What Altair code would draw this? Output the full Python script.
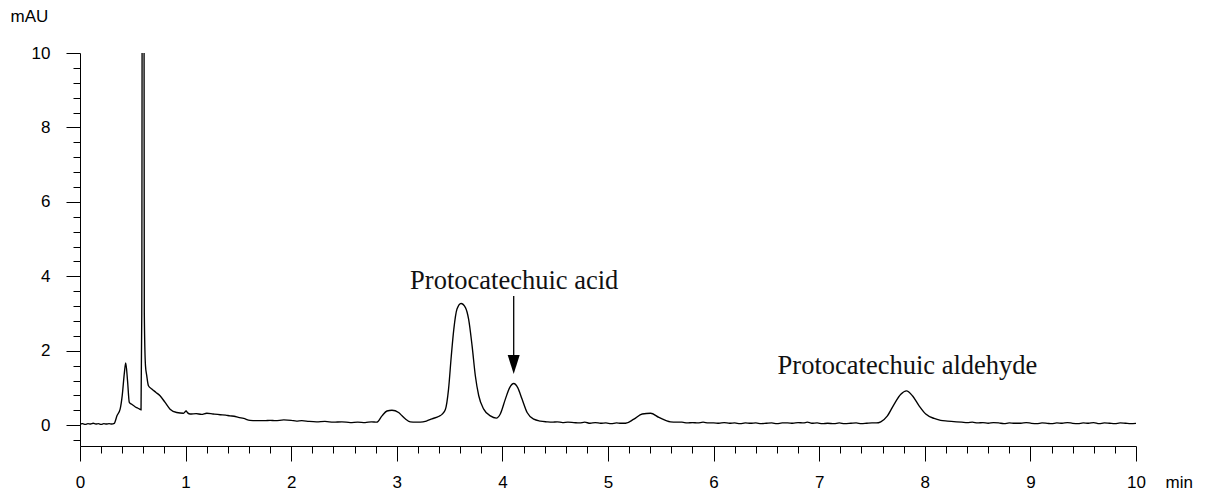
import altair as alt
import pandas as pd

# ---- chromatogram trace (time in min, absorbance in mAU) ----
# baseline before injection front
seg0_t = [0.00, 0.025, 0.05, 0.075, 0.10, 0.125, 0.15, 0.175, 0.20, 0.225, 0.25, 0.275, 0.30]
seg0_v = [0.03, 0.04, 0.02, 0.04, 0.03, 0.05, 0.03, 0.04, 0.02, 0.04, 0.03, 0.04, 0.03]

# solvent front, spike and tail
seg1_t = [0.325, 0.35, 0.38, 0.40, 0.42, 0.433, 0.45, 0.467, 0.49, 0.51, 0.537, 0.56, 0.578,
          0.585, 0.597, 0.609, 0.62, 0.632, 0.648, 0.68, 0.72, 0.758, 0.806, 0.853, 0.916,
          0.98, 1.005, 1.02, 1.043, 1.10, 1.15, 1.20, 1.26, 1.327, 1.38, 1.42, 1.46, 1.50,
          1.55, 1.61]
seg1_v = [0.05, 0.25, 0.43, 0.80, 1.40, 1.67, 1.20, 0.61, 0.56, 0.52, 0.47, 0.44, 0.41,
          3.00, 40.0, 3.00, 1.60, 1.33, 1.06, 0.97, 0.88, 0.79, 0.61, 0.43, 0.34,
          0.32, 0.38, 0.33, 0.30, 0.31, 0.29, 0.32, 0.30, 0.28, 0.27, 0.25, 0.24, 0.21,
          0.18, 0.13]

# baseline and the small peak near 2.95 min
seg2_t = [1.675, 1.75, 1.80, 1.85, 1.93, 2.00, 2.05, 2.10, 2.17, 2.24, 2.32, 2.40, 2.48,
          2.56, 2.63, 2.70, 2.76, 2.81, 2.86, 2.907, 2.954, 3.017, 3.05, 3.08, 3.128, 3.18,
          3.223, 3.28, 3.333, 3.40, 3.428]
seg2_v = [0.12, 0.12, 0.13, 0.12, 0.14, 0.13, 0.11, 0.12, 0.10, 0.09, 0.10, 0.08, 0.09,
          0.07, 0.08, 0.07, 0.09, 0.08, 0.25, 0.38, 0.40, 0.34, 0.25, 0.17, 0.09, 0.08,
          0.08, 0.11, 0.17, 0.24, 0.29]

# main peak (3.6 min) and protocatechuic acid (4.1 min)
seg3_t = [3.46, 3.49, 3.516, 3.54, 3.57, 3.608, 3.65, 3.68, 3.713, 3.744, 3.776, 3.823,
          3.886, 3.943, 3.98, 4.028, 4.069, 4.107, 4.145, 4.186, 4.234, 4.297, 4.36]
seg3_v = [0.42, 0.97, 1.86, 2.58, 3.12, 3.27, 3.16, 2.85, 2.13, 1.32, 0.79, 0.43,
          0.25, 0.19, 0.30, 0.70, 1.01, 1.12, 1.01, 0.70, 0.34, 0.16, 0.11]

# baseline and small peak at 5.4 min
seg4_t = [4.42, 4.47, 4.52, 4.57, 4.62, 4.676, 4.73, 4.78, 4.83, 4.88, 4.93, 4.98, 5.03,
          5.08, 5.12, 5.166, 5.245, 5.324, 5.403, 5.482, 5.592, 5.65]
seg4_v = [0.09, 0.08, 0.09, 0.07, 0.08, 0.07, 0.06, 0.08, 0.05, 0.07, 0.05, 0.06, 0.04,
          0.06, 0.05, 0.05, 0.16, 0.30, 0.32, 0.21, 0.09, 0.08]

# long baseline up to the aldehyde peak
seg5_t = [5.70, 5.75, 5.80, 5.85, 5.90, 5.95, 6.00, 6.05, 6.10, 6.15, 6.20, 6.25, 6.30,
          6.35, 6.40, 6.45, 6.50, 6.55, 6.60, 6.65, 6.70, 6.75, 6.80, 6.85, 6.888, 6.93,
          6.98, 7.03, 7.08, 7.14, 7.19, 7.24, 7.30, 7.35, 7.40, 7.45, 7.50, 7.54]
seg5_v = [0.08, 0.06, 0.07, 0.06, 0.08, 0.06, 0.06, 0.05, 0.07, 0.05, 0.06, 0.04, 0.06,
          0.05, 0.06, 0.04, 0.05, 0.06, 0.04, 0.06, 0.06, 0.05, 0.07, 0.06, 0.08, 0.05,
          0.06, 0.04, 0.05, 0.04, 0.06, 0.04, 0.05, 0.06, 0.04, 0.05, 0.06, 0.06]

# protocatechuic aldehyde (7.8 min) and tail to 10 min
seg6_t = [7.583, 7.646, 7.709, 7.773, 7.826, 7.883, 7.946, 8.009, 8.088, 8.15, 8.215, 8.30,
          8.35, 8.404, 8.45, 8.50, 8.55, 8.60, 8.65, 8.70, 8.75, 8.80, 8.85, 8.91, 8.96,
          9.01, 9.06, 9.11, 9.16, 9.20, 9.25, 9.30, 9.35, 9.40, 9.45, 9.50, 9.55, 9.60,
          9.65, 9.70, 9.75, 9.80, 9.85, 9.90, 9.95, 10.00]
seg6_v = [0.09, 0.25, 0.56, 0.83, 0.92, 0.79, 0.52, 0.30, 0.18, 0.13, 0.11, 0.09,
          0.08, 0.07, 0.08, 0.06, 0.07, 0.05, 0.07, 0.06, 0.04, 0.06, 0.05, 0.05, 0.07,
          0.05, 0.04, 0.06, 0.05, 0.04, 0.06, 0.05, 0.07, 0.05, 0.04, 0.06, 0.05, 0.07,
          0.04, 0.06, 0.05, 0.04, 0.06, 0.05, 0.04, 0.05]

time_min = seg0_t + seg1_t + seg2_t + seg3_t + seg4_t + seg5_t + seg6_t
absorbance = seg0_v + seg1_v + seg2_v + seg3_v + seg4_v + seg5_v + seg6_v

# ---- annotations ----
label_text = ["Protocatechuic acid", "Protocatechuic aldehyde"]
label_time = [4.112, 7.836]
label_mau = [3.66, 1.37]

arrow_time = [4.107]
arrow_top = [3.47]
arrow_bottom = [1.85]
arrow_head_mau = [1.63]

# ---- ticks ----
x_major = list(range(0, 11))
x_minor = [round(i * 0.2, 1) for i in range(0, 51) if i % 5 != 0]
y_major = [0, 2, 4, 6, 8, 10]
y_minor = [round(i * 0.4, 1) for i in range(-1, 26) if i % 5 != 0]

trace = pd.DataFrame({"t": time_min, "v": absorbance})
labels = pd.DataFrame({"t": label_time, "v": label_mau, "txt": label_text})
arrow = pd.DataFrame({"t": arrow_time, "v": arrow_top, "v2": arrow_bottom, "vh": arrow_head_mau})

xs = alt.Scale(domain=[0, 10], nice=False, zero=False)
ys = alt.Scale(domain=[-0.56, 10], nice=False, zero=False)

SANS = "Liberation Sans"
SERIF = "Liberation Serif"

x_major_axis = alt.Axis(
    orient="bottom", values=x_major, format="d", tickSize=15, tickColor="black", tickWidth=1,
    domainColor="black", domainWidth=1, labelFont=SANS, labelFontSize=17, labelColor="black",
    labelPadding=13, labelFlush=False, labelOverlap=False, grid=False,
    title="min", titleX=1085, titleY=41, titleAlign="left", titleBaseline="alphabetic",
    titleFont=SANS, titleFontSize=17, titleFontWeight="normal", titleColor="black",
)
x_minor_axis = alt.Axis(
    orient="bottom", values=x_minor, tickSize=7, tickColor="black", tickWidth=1,
    labels=False, domain=False, grid=False, title="",
)
y_major_axis = alt.Axis(
    orient="left", values=y_major, format="d", tickSize=14, tickColor="black", tickWidth=1,
    domainColor="black", domainWidth=1, labelFont=SANS, labelFontSize=17, labelColor="black",
    labelPadding=16, labelFlush=False, labelOverlap=False, grid=False,
    title="mAU", titleAngle=0, titleX=-70, titleY=-32, titleAlign="left",
    titleBaseline="alphabetic", titleFont=SANS, titleFontSize=17, titleFontWeight="normal",
    titleColor="black",
)
y_minor_axis = alt.Axis(
    orient="left", values=y_minor, tickSize=7, tickColor="black", tickWidth=1,
    labels=False, domain=False, grid=False, title="",
)

line = alt.Chart(trace).mark_line(
    color="black", strokeWidth=1.35, clip=True, interpolate="monotone"
).encode(
    x=alt.X("t:Q", scale=xs, axis=x_major_axis),
    y=alt.Y("v:Q", scale=ys, axis=y_major_axis),
)

text = alt.Chart(labels).mark_text(
    font=SERIF, fontSize=26.5, color="#111111", align="center", baseline="alphabetic"
).encode(
    x=alt.X("t:Q", scale=xs, axis=x_minor_axis),
    y=alt.Y("v:Q", scale=ys, axis=y_minor_axis),
    text="txt:N",
)

shaft = alt.Chart(arrow).mark_rule(color="black", strokeWidth=1.3).encode(
    x=alt.X("t:Q", scale=xs, axis=None),
    y=alt.Y("v:Q", scale=ys, axis=None),
    y2="v2:Q",
)

head = alt.Chart(arrow).mark_point(
    shape="M-0.63,-1L0.63,-1L0,1Z", size=361, filled=True, color="black", opacity=1
).encode(
    x=alt.X("t:Q", scale=xs, axis=None),
    y=alt.Y("vh:Q", scale=ys, axis=None),
)

chart = (
    alt.layer(line, text, shaft, head)
    .resolve_axis(x="independent", y="independent")
    .properties(
        width=1056,
        height=393,
        autosize=alt.AutoSizeParams(type="none"),
        padding={"left": 72, "top": 45, "right": 66, "bottom": 45},
        background="white",
    )
    .configure_view(stroke=None)
)

chart.save("out.html", embed_options={"renderer": "svg", "actions": False})
